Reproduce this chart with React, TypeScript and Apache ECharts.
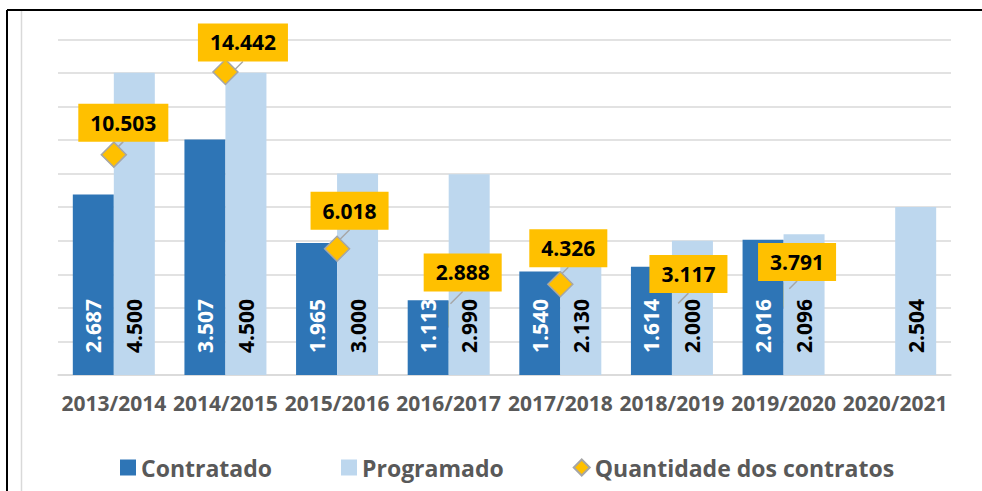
import { useEffect, useRef } from 'react';
import * as echarts from 'echarts';

const categories = ['2013/2014', '2014/2015', '2015/2016', '2016/2017', '2017/2018', '2018/2019', '2019/2020', '2020/2021'];
const contratado: (number | null)[] = [2687, 3507, 1965, 1113, 1540, 1614, 2016, null];
const programado: number[] = [4500, 4500, 3000, 2990, 2130, 2000, 2096, 2504];
const quantidade: (number | null)[] = [10503, 14442, 6018, 2888, 4326, 3117, 3791, null];
// markers drawn behind the bars in the original
const hiddenMarkers = [3, 5, 6];

// label callout displacement (px) relative to each marker
const calloutOffsets: [number, number][] = [
  [9.5, -32], [17.5, -29.5], [12.5, -38], [14, -42], [8, -36], [16.5, -35.5], [13.5, -33.5], [0, 0],
];

const FONT = 'Open Sans';
const fmt = (v: number) => String(v).replace(/\B(?=(\d{3})+(?!\d))/g, '.');

export default function App() {
  const ref = useRef<HTMLDivElement>(null);
  useEffect(() => {
    if (!ref.current) return;
    const chart = echarts.init(ref.current, null, { renderer: 'svg' });
    const barLabel = (color: string) => ({
      show: true,
      position: 'insideBottom',
      distance: 22,
      rotate: 90,
      align: 'left',
      verticalAlign: 'middle',
      color,
      fontFamily: FONT,
      fontWeight: 'bold',
      fontSize: 21,
      formatter: (p: any) => fmt(p.value),
    });
    chart.setOption({
      animation: false,
      backgroundColor: '#ffffff',
      textStyle: { fontFamily: FONT },
      grid: { left: 58, right: 31, top: 39.3, bottom: 116, containLabel: false },
      legend: {
        left: 115,
        top: 451,
        itemWidth: 16,
        itemHeight: 16,
        itemGap: 69,
        textStyle: { color: '#595959', fontSize: 23, fontWeight: 'bold', fontFamily: FONT },
        data: [
          { name: 'Contratado', icon: 'rect' },
          { name: 'Programado', icon: 'rect' },
          { name: 'Quantidade dos contratos', icon: 'diamond' },
        ],
      },
      xAxis: {
        type: 'category',
        data: categories,
        axisTick: { show: false },
        axisLine: { lineStyle: { color: '#D9D9D9', width: 1.5 } },
        axisLabel: { interval: 0, margin: 17, color: '#595959', fontSize: 21, fontWeight: 'bold', fontFamily: FONT },
      },
      yAxis: [
        {
          type: 'value',
          min: 0,
          max: 5000,
          interval: 500,
          axisLabel: { show: false },
          axisLine: { show: false },
          axisTick: { show: false },
          splitLine: { lineStyle: { color: '#D9D9D9', width: 1.5 } },
        },
        { type: 'value', min: 0, max: 16000, show: false, splitLine: { show: false } },
      ],
      graphic: [
        { type: 'line', shape: { x1: 7, y1: 10, x2: 982, y2: 10 }, style: { stroke: '#000', lineWidth: 2 }, z: 100 },
        { type: 'line', shape: { x1: 7, y1: 10, x2: 7, y2: 491 }, style: { stroke: '#000', lineWidth: 2 }, z: 100 },
        { type: 'line', shape: { x1: 21.5, y1: 11, x2: 21.5, y2: 491 }, style: { stroke: '#D9D9D9', lineWidth: 1.5 }, z: 100 },
      ],
      series: [
        {
          name: 'hidden-markers',
          type: 'scatter',
          yAxisIndex: 1,
          z: 1,
          silent: true,
          symbol: 'diamond',
          symbolSize: 25,
          itemStyle: { color: '#FFC000', borderColor: '#A6A6A6', borderWidth: 1.5 },
          data: quantidade.map((v, i) => (hiddenMarkers.includes(i) ? v : null)),
        },
        {
          name: 'Contratado',
          type: 'bar',
          barWidth: 41,
          barGap: '0%',
          itemStyle: { color: '#2E75B6' },
          label: barLabel('#ffffff'),
          data: contratado,
        },
        {
          name: 'Programado',
          type: 'bar',
          barWidth: 41,
          barGap: '0%',
          itemStyle: { color: '#BDD7EE' },
          label: barLabel('#000000'),
          data: programado,
        },
        {
          name: 'Quantidade dos contratos',
          type: 'line',
          yAxisIndex: 1,
          z: 5,
          symbol: 'diamond',
          symbolSize: 25,
          lineStyle: { width: 0, opacity: 0 },
          itemStyle: { color: '#FFC000', borderColor: '#A6A6A6', borderWidth: 1.5 },
          label: {
            show: true,
            position: 'inside',
            color: '#000000',
            fontFamily: FONT,
            fontWeight: 'bold',
            fontSize: 21,
            lineHeight: 21,
            backgroundColor: '#FFC000',
            padding: [9, 12, 8, 12],
            formatter: (p: any) => fmt(p.value),
          },
          labelLine: { show: true, lineStyle: { color: '#A6A6A6', width: 1.5 } },
          labelLayout: (p: any) => ({ dx: calloutOffsets[p.dataIndex][0], dy: calloutOffsets[p.dataIndex][1] }),
          data: quantidade.map((v, i) =>
            hiddenMarkers.includes(i)
              ? { value: v, itemStyle: { color: 'rgba(0,0,0,0)', borderColor: 'rgba(0,0,0,0)' } }
              : v
          ),
        },
      ],
    });
    return () => chart.dispose();
  }, []);
  return <div ref={ref} style={{ position: 'fixed', left: 0, top: 0, width: 982, height: 491 }} />;
}
